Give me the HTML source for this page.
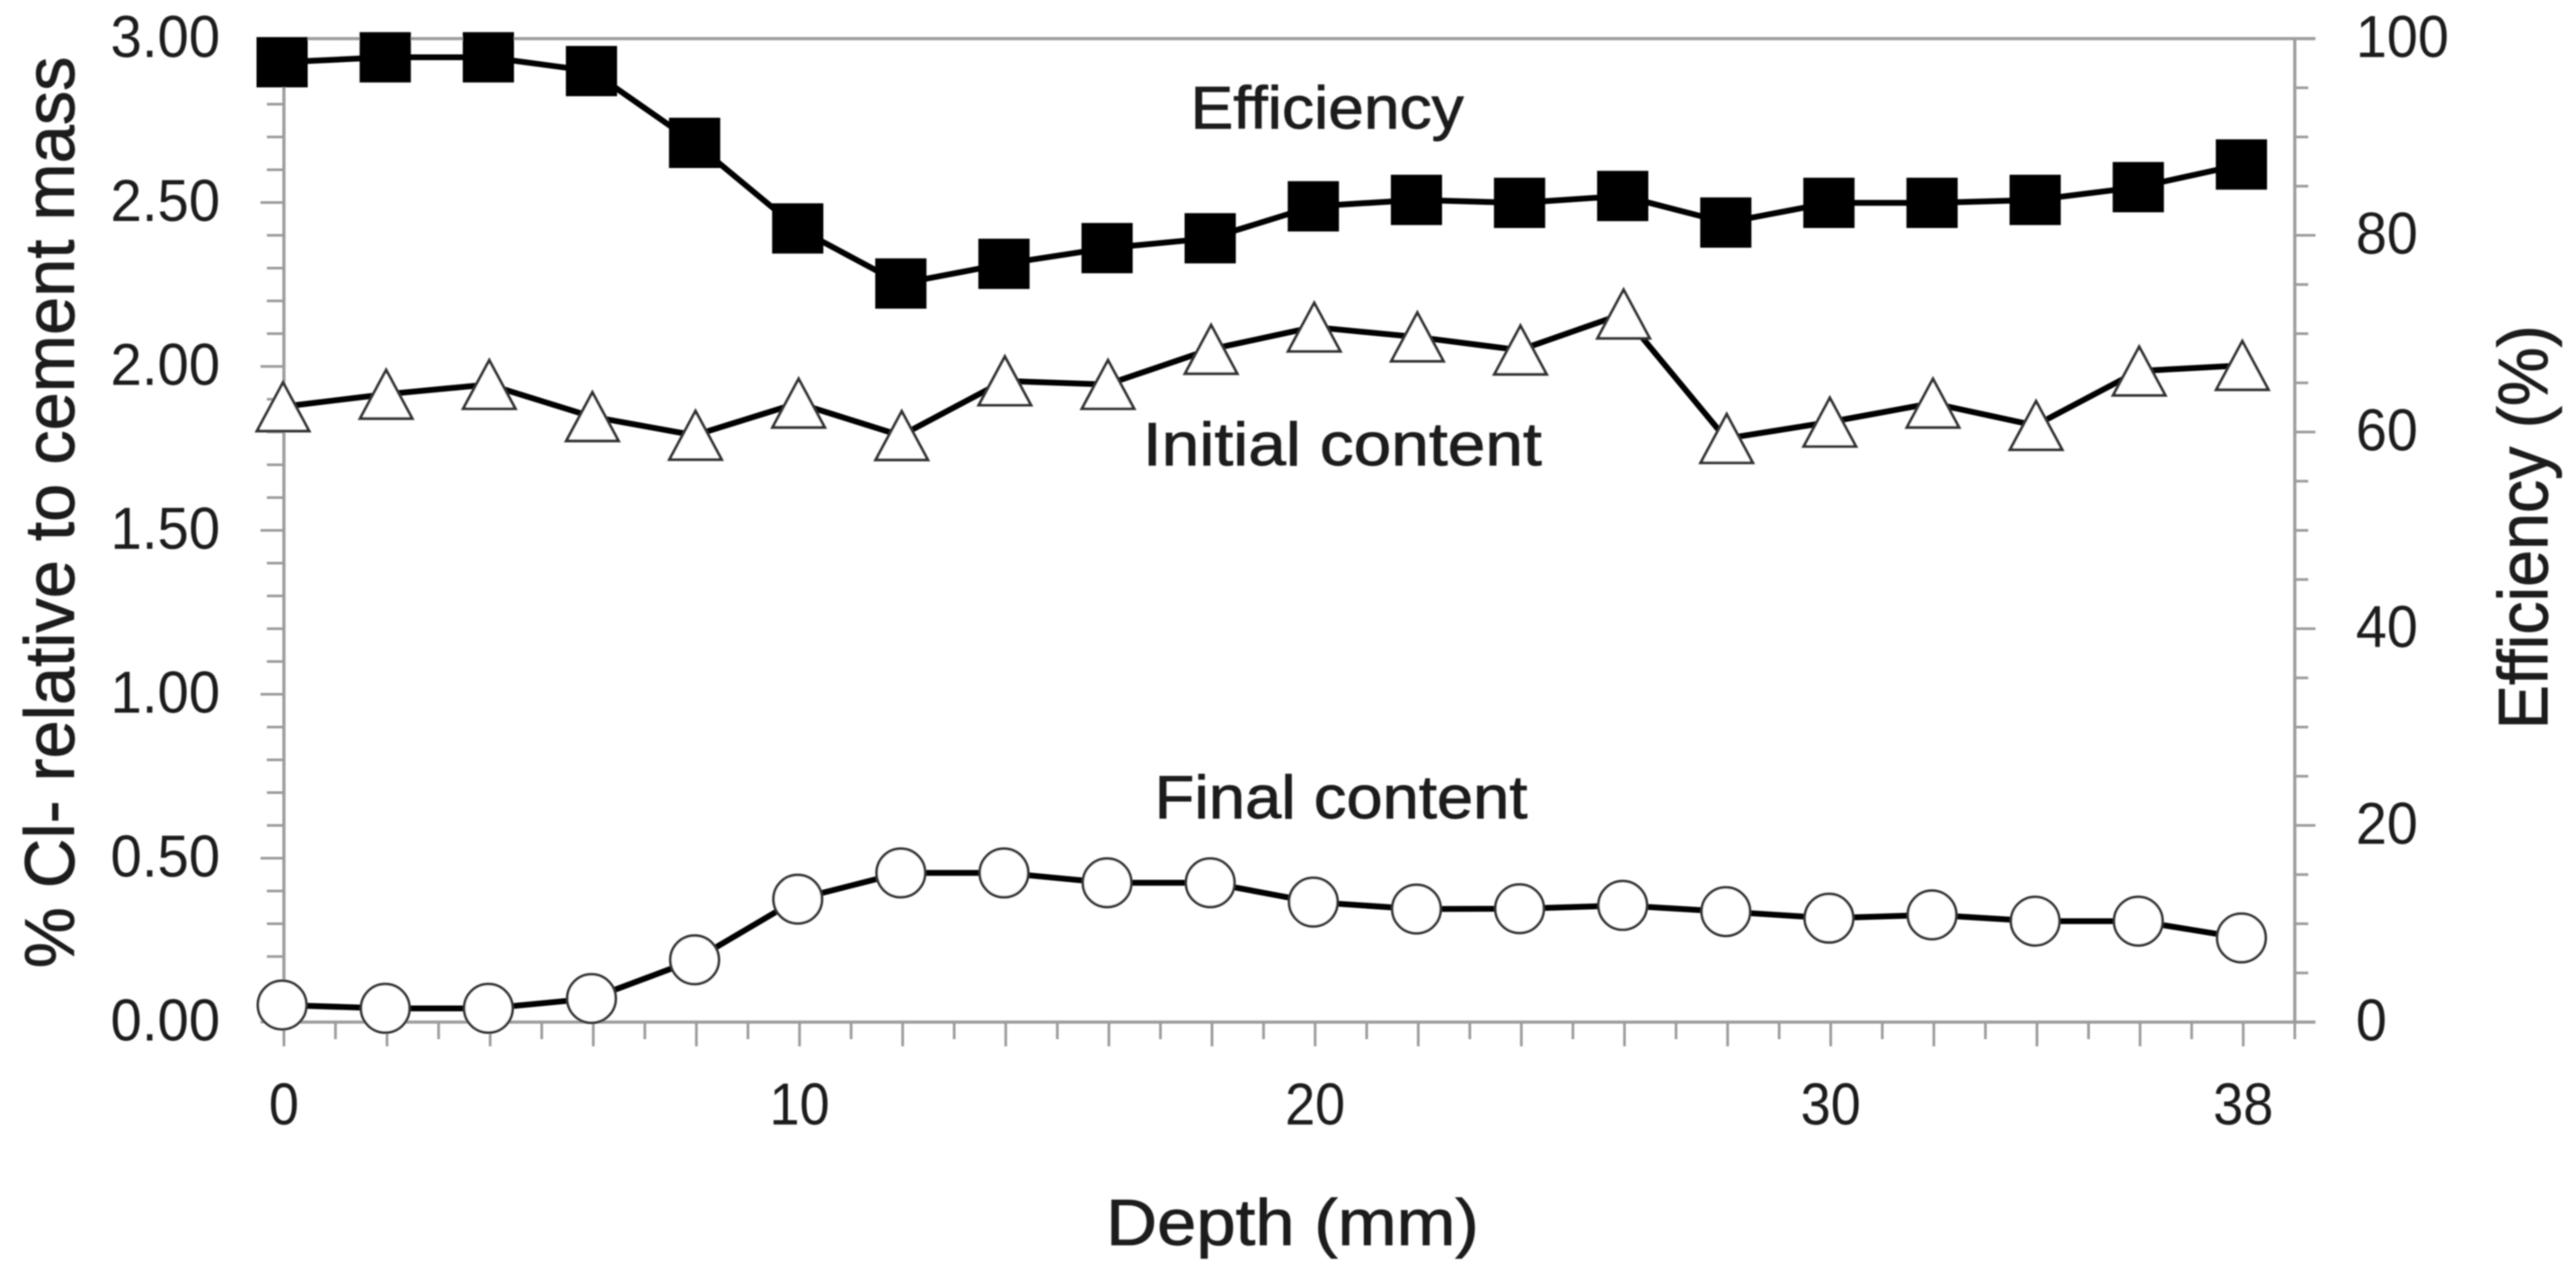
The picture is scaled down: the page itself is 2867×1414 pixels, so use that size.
<!DOCTYPE html>
<html lang="en">
<head>
<meta charset="utf-8">
<title>Chloride content and efficiency versus depth</title>
<style>
  html, body { margin: 0; padding: 0; background: #fff; }
  #chart { display: block; width: 2867px; height: 1414px; }
  text { font-family: "Liberation Sans", sans-serif; fill: #1c1c1c; }
  .heavy { stroke: #1c1c1c; stroke-width: 0.9; }
</style>
</head>
<body>
<svg id="chart" xmlns="http://www.w3.org/2000/svg" width="2867" height="1414" viewBox="0 0 2867 1414">
  <defs>
    <filter id="soft" x="-2%" y="-2%" width="104%" height="104%"><feGaussianBlur stdDeviation="0.8"/></filter>
  </defs>
  <g filter="url(#soft)">
    <g id="axes"></g>
    <g id="ticklabels"></g>
    <g id="series"></g>
    <text class="heavy" x="1325" y="143" font-size="67" textLength="304" lengthAdjust="spacingAndGlyphs">Efficiency</text>
    <text class="heavy" x="1272" y="518" font-size="68" textLength="444" lengthAdjust="spacingAndGlyphs">Initial content</text>
    <text class="heavy" x="1285" y="911" font-size="68" textLength="415" lengthAdjust="spacingAndGlyphs">Final content</text>
    <text class="heavy" x="1231" y="1386" font-size="72" textLength="415" lengthAdjust="spacingAndGlyphs">Depth (mm)</text>
    <text class="heavy" transform="translate(82 1078) rotate(-90)" font-size="78" textLength="1015" lengthAdjust="spacingAndGlyphs">% Cl- relative to cement mass</text>
    <text class="heavy" transform="translate(2835 812) rotate(-90)" font-size="78" textLength="450" lengthAdjust="spacingAndGlyphs">Efficiency (%)</text>
  </g>
</svg>
<script>
const depths = [0, 2, 4, 6, 8, 10, 12, 14, 16, 18, 20, 22, 24, 26, 28, 30, 32, 34, 36, 38];
const efficiency = [97.6, 98.1, 98.1, 96.7, 89.4, 80.7, 75.1, 77.1, 78.7, 79.7, 82.95, 83.6, 83.3, 84.0, 81.3, 83.3, 83.3, 83.6, 84.9, 87.2];
const initialContent = [1.877, 1.915, 1.945, 1.847, 1.79, 1.888, 1.789, 1.956, 1.945, 2.052, 2.12, 2.09, 2.05, 2.16, 1.78, 1.83, 1.888, 1.82, 1.986, 2.003];
const finalContent = [0.052, 0.042, 0.042, 0.072, 0.19, 0.375, 0.455, 0.455, 0.425, 0.425, 0.366, 0.345, 0.346, 0.356, 0.337, 0.317, 0.327, 0.308, 0.308, 0.257];
const leftTickLabels = ["0.00", "0.50", "1.00", "1.50", "2.00", "2.50", "3.00"];
const rightTickLabels = ["0", "20", "40", "60", "80", "100"];
const depthTickLabels = ["0", "10", "20", "30", "38"];

const SVG_NS = "http://www.w3.org/2000/svg";
const plotLeft = 316, plotRight = 2554, plotTop = 43, plotBottom = 1138;
const xMax = 39, leftMax = 3, rightMax = 100;
const axisColor = "#9c9c9c";
const axes = document.getElementById("axes");
const tickLabelGroup = document.getElementById("ticklabels");
const seriesGroup = document.getElementById("series");

function xTick(d) { return plotLeft + (plotRight - plotLeft) * d / xMax; }
function xMark(d) { return xTick(d) - 2; }
function yLeft(v) { return plotBottom - (plotBottom - plotTop) * v / leftMax; }
function yRight(v) { return plotBottom - (plotBottom - plotTop) * v / rightMax; }

function shape(tag, parent, attrs) {
  const el = document.createElementNS(SVG_NS, tag);
  for (const k in attrs) el.setAttribute(k, attrs[k]);
  parent.appendChild(el);
  return el;
}
function axisLine(x1, y1, x2, y2, width) {
  return shape("line", axes, { x1: x1, y1: y1, x2: x2, y2: y2, stroke: axisColor, "stroke-width": width });
}

/* Frame */
let frame = axisLine(plotLeft, plotTop, plotLeft, plotBottom, 3.5);


frame = axisLine(plotRight, plotTop, plotRight, plotBottom, 3.5);


frame = axisLine(plotLeft, plotTop, plotRight + 23, plotTop, 3.5);


frame = axisLine(plotLeft, plotBottom, plotRight + 23, plotBottom, 3.5);



/* Left ticks: 4 minor ticks between labelled values */
for (let i = 0; i <= (leftTickLabels.length - 1) * 5; i++) {
  const v = i * 0.1;
  const major = i % 5 === 0;
  const t = axisLine(major ? plotLeft - 26 : plotLeft - 19, yLeft(v), plotLeft, yLeft(v), 3);
  
  
}
leftTickLabels.forEach(function (label) {
  const t = shape("text", tickLabelGroup, { x: 123, y: yLeft(parseFloat(label)) + 20.5, "font-size": 66, textLength: 122, lengthAdjust: "spacingAndGlyphs" });
  t.textContent = label;
  
  
});

/* Right ticks: 3 minor ticks between labelled values */
for (let i = 0; i <= (rightTickLabels.length - 1) * 4; i++) {
  const v = i * 5;
  const major = i % 4 === 0;
  const t = axisLine(plotRight, yRight(v), major ? plotRight + 23 : plotRight + 15, yRight(v), 3);
  
  
}
rightTickLabels.forEach(function (label) {
  const t = shape("text", tickLabelGroup, { x: 2622, y: yRight(parseFloat(label)) + 20.5, "font-size": 66, textLength: label.length * 34.5, lengthAdjust: "spacingAndGlyphs" });
  t.textContent = label;
  
  
});

/* X ticks: every millimetre, long on even values */
for (let d = 0; d <= xMax; d++) {
  const major = d % 2 === 0;
  const t = axisLine(xTick(d), plotBottom, xTick(d), major ? plotBottom + 27 : plotBottom + 19, 3);
  
  
}
depthTickLabels.forEach(function (label) {
  const t = shape("text", tickLabelGroup, { x: xTick(parseFloat(label)) - (label.length * 33.5) / 2, y: 1252, "font-size": 66, textLength: label.length * 33.5, lengthAdjust: "spacingAndGlyphs" });
  t.textContent = label;
  
  
});

function linePoints(values, yFn) {
  return values.map(function (v, i) { return xMark(depths[i]).toFixed(1) + "," + yFn(v).toFixed(1); }).join(" ");
}

/* Final content: circles */
const finalLine = shape("polyline", seriesGroup, { points: linePoints(finalContent, yLeft), fill: "none", stroke: "#000", "stroke-width": 6.5, "stroke-linejoin": "round" });


finalContent.forEach(function (v, i) {
  const c = shape("circle", seriesGroup, { cx: xMark(depths[i]), cy: yLeft(v), r: 27, fill: "#fff", stroke: "#333", "stroke-width": 3 });
  
  
});

/* Initial content: triangles */
const initialLine = shape("polyline", seriesGroup, { points: linePoints(initialContent, yLeft), fill: "none", stroke: "#000", "stroke-width": 6.5, "stroke-linejoin": "round" });


initialContent.forEach(function (v, i) {
  const x = xMark(depths[i]) + 1, y = yLeft(v);
  const pts = [x, y - 27, x + 29, y + 27, x - 29, y + 27].join(" ");
  const p = shape("polygon", seriesGroup, { points: pts, fill: "#fff", stroke: "#333", "stroke-width": 3.2, "stroke-linejoin": "miter" });
  
  
});

/* Efficiency: filled squares on the right axis */
const effLine = shape("polyline", seriesGroup, { points: linePoints(efficiency, yRight), fill: "none", stroke: "#000", "stroke-width": 6.5, "stroke-linejoin": "round" });


efficiency.forEach(function (v, i) {
  const r = shape("rect", seriesGroup, { x: xMark(depths[i]) - 28.5, y: yRight(v) - 28, width: 57, height: 56, fill: "#000" });
  
  
});
</script>
</body>
</html>
